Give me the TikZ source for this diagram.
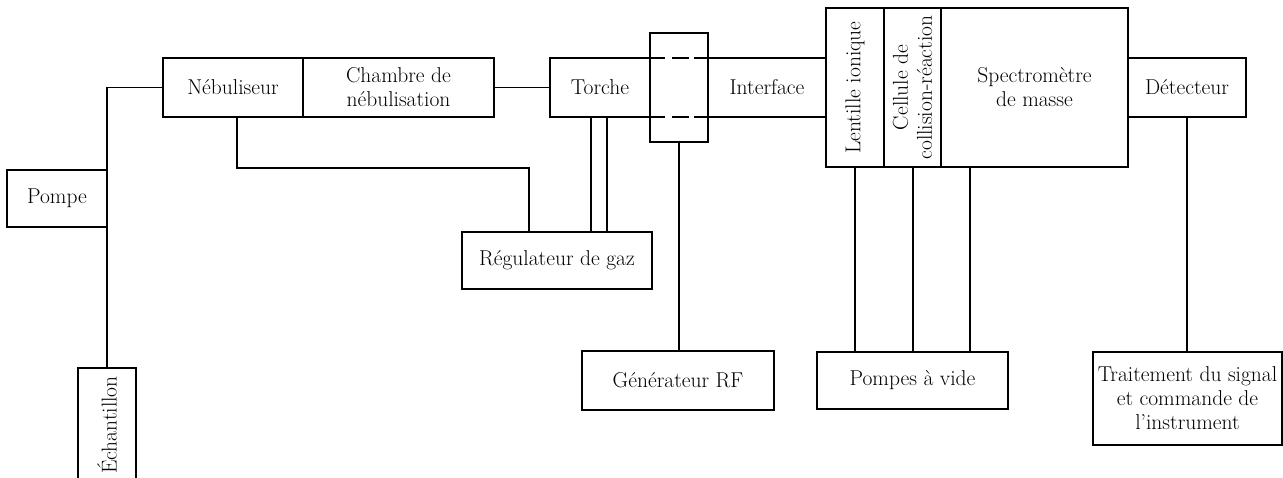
\documentclass[tikz,border=0pt]{standalone}
\usetikzlibrary{calc}
\newcommand\diagfont{\fontsize{21.5}{24}\selectfont}
\begin{document}
\begin{tikzpicture}[x=1pt,y=-1pt,
  box/.style={draw,line width=2.7pt,inner sep=0pt,outer sep=0pt,align=center,font=\diagfont},
  boxline/.style={line width=2.7pt},
  conn/.style={line width=1.9pt},
]
\clip (0,0) rectangle (1283,477);
\useasboundingbox (0,0) rectangle (1283,477);

\node[box,minimum width=100pt,minimum height=57pt] (pompe) at (57,198.5) {Pompe};
\node[box,rotate=90,minimum width=114pt,minimum height=58pt] (ech) at (107,425) {Échantillon};
\node[box,minimum width=140pt,minimum height=59pt] (neb) at (233,87.5) {Nébuliseur};
\node[box,minimum width=191pt,minimum height=59pt] (chb) at (398.5,87.5) {Chambre de\\nébulisation};
\node[box,minimum width=100pt,minimum height=59pt] (torche) at (600,87.5) {Torche};
\node[inner sep=0pt,outer sep=0pt,minimum width=58pt,minimum height=109pt] (coil) at (679,87.5) {};
\node[inner sep=0pt,outer sep=0pt,font=\diagfont,minimum width=118pt,minimum height=59pt] (intf) at (767,87.5) {Interface};
\node[box,rotate=90,minimum width=159pt,minimum height=58pt] (lent) at (855,87.5) {Lentille ionique};
\node[box,rotate=90,minimum width=159pt,minimum height=57pt] (cell) at (912.5,87.5) {Cellule de\\collision-réaction};
\node[box,minimum width=187pt,minimum height=159pt] (spec) at (1034.5,87.5) {Spectromètre\\de masse};
\node[box,minimum width=118pt,minimum height=59pt] (det) at (1187,87.5) {Détecteur};
\node[box,minimum width=190pt,minimum height=57pt] (reg) at (557,260.5) {Régulateur de gaz};
\node[box,minimum width=192pt,minimum height=59pt] (gen) at (678,380.5) {Générateur RF};
\node[box,minimum width=191pt,minimum height=57pt] (pv) at (912.5,380.5) {Pompes à vide};
\node[box,minimum width=189pt,minimum height=93pt] (trt) at (1187.5,398.5) {Traitement du signal\\et commande de\\l’instrument};

% RF coil box with dashed crossings
\draw[boxline] (coil.north west) rectangle (coil.south east);
\draw[boxline,dash pattern=on 15pt off 7pt on 17pt off 5pt on 14pt]
  (coil.west |- torche.north) -- (coil.east |- torche.north);
\draw[boxline,dash pattern=on 15pt off 7pt on 17pt off 5pt on 14pt]
  (coil.west |- torche.south) -- (coil.east |- torche.south);
% interface tube
\draw[boxline] (intf.north west) -- (intf.north east);
\draw[boxline] (intf.south west) -- (intf.south east);

% connectors
\coordinate (gb) at (237,168);
\draw[conn] (neb.west) -| (pompe.north east);
\draw[conn] (pompe.south east) -- (pompe.south east |- ech.east);
\draw[conn] (chb.east) -- (torche.west);
\draw[conn] (gb |- neb.south) -- (gb) -| ([xshift=-28pt]reg.north);
\draw[conn] ([xshift=-9pt]torche.south) -- ([xshift=-9pt]torche.south |- reg.north);
\draw[conn] ([xshift=7pt]torche.south) -- ([xshift=7pt]torche.south |- reg.north);
\draw[conn] (coil.south) -- (coil.south |- gen.north);
\draw[conn] (lent.west) -- (lent.west |- pv.north);
\draw[conn] ([xshift=0.5pt]cell.west) -- ([xshift=0.5pt]cell.west |- pv.north);
\draw[conn] ([xshift=29pt]spec.south west) -- ([xshift=29pt]spec.south west |- pv.north);
\draw[conn] (det.south) -- (det.south |- trt.north);
\end{tikzpicture}
\end{document}
